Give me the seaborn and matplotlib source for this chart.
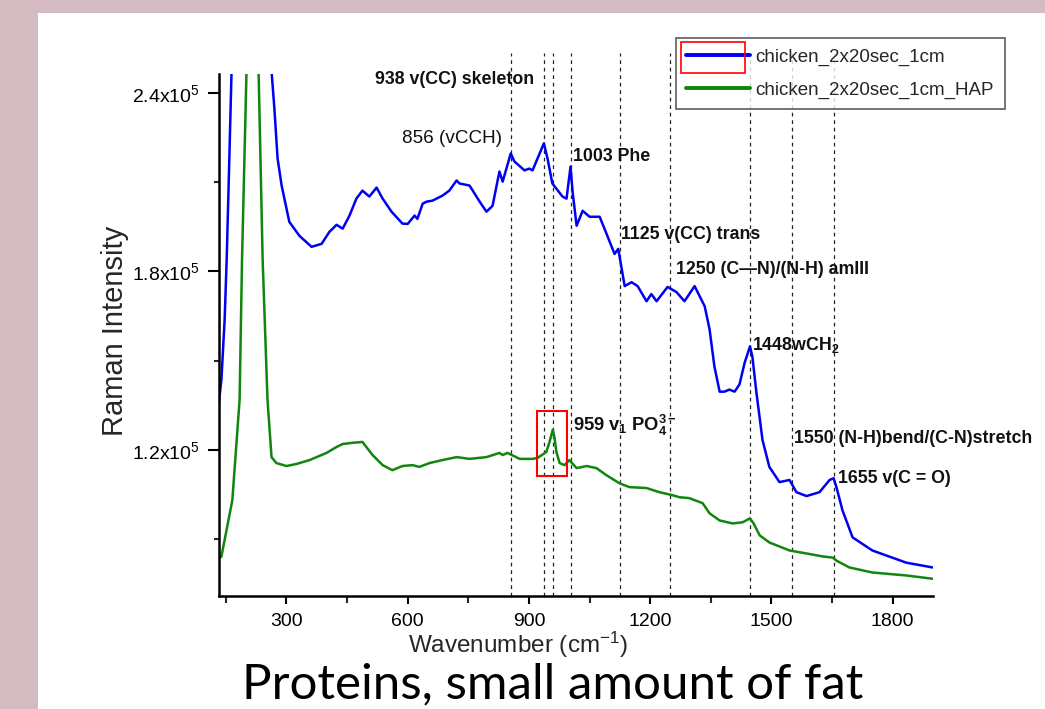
import numpy as np
import pandas as pd
import matplotlib
matplotlib.use("Agg")
import matplotlib.pyplot as plt
from matplotlib.patches import Rectangle
from matplotlib.lines import Line2D
import seaborn as sns

# ---------------- data ----------------
series_names = ["chicken_2x20sec_1cm", "chicken_2x20sec_1cm_HAP"]

blue_x = [132, 139, 147, 152, 158, 164, 190, 215, 240, 263, 270, 278, 288, 307, 332, 362, 387,
          406, 424, 439, 456, 473, 488, 505, 523, 538, 560, 587, 600, 617, 624, 637, 647, 661,
          686, 703, 721, 728, 753, 778, 795, 810, 827, 835, 855, 864, 889, 901, 909, 937, 946,
          958, 983, 993, 1003, 1008, 1018, 1033, 1050, 1075, 1087, 1104, 1112, 1121, 1137, 1154,
          1169, 1191, 1203, 1216, 1243, 1265, 1285, 1310, 1335, 1347, 1359, 1372, 1384, 1396,
          1409, 1421, 1434, 1447, 1453, 1463, 1478, 1495, 1520, 1545, 1562, 1587, 1619, 1644,
          1654, 1661, 1676, 1701, 1750, 1834, 1899]
blue_y = [135200, 143700, 163900, 184000, 215000, 247000, 300000, 330000, 300000, 247400, 234900,
          218000, 208900, 196700, 192000, 188300, 189300, 193300, 195700, 194400, 198800, 204500,
          207200, 205200, 208200, 204500, 200100, 196100, 196000, 198800, 197700, 202800, 203500,
          203800, 205500, 207200, 210600, 209600, 208900, 203500, 200100, 202100, 213600, 210200,
          219700, 217000, 214000, 214600, 214000, 223100, 218000, 209600, 205200, 204500, 215300,
          206900, 195400, 200400, 198400, 198400, 194400, 188600, 185900, 187600, 175100, 176400,
          175100, 170000, 172400, 170000, 174800, 173100, 170000, 175100, 168300, 160600, 148100,
          139600, 139600, 140300, 139600, 142000, 149400, 154800, 151400, 139300, 123400, 114300,
          109200, 109900, 105800, 104500, 105800, 109900, 110500, 107500, 99700, 90600, 86200,
          82100, 80500]

green_x = [133, 139, 166, 184, 190, 201, 215, 231, 241, 253, 263, 275, 300, 325, 357, 399, 424,
           439, 463, 488, 513, 538, 562, 587, 612, 629, 654, 686, 721, 753, 795, 827, 835, 847,
           877, 909, 921, 943, 951, 959, 963, 968, 976, 988, 1000, 1018, 1043, 1067, 1092, 1124,
           1149, 1191, 1223, 1255, 1273, 1297, 1330, 1347, 1372, 1404, 1429, 1447, 1456, 1471,
           1495, 1545, 1587, 1627, 1652, 1661, 1693, 1750, 1834, 1899]
green_y = [83500, 84200, 103100, 136900, 184000, 247000, 400000, 247000, 184000, 136900, 117600,
           115600, 114600, 115300, 116600, 119000, 121000, 122000, 122400, 122700, 118300, 114900,
           113200, 114600, 114900, 114300, 115600, 116600, 117600, 117000, 117600, 119000, 118300,
           119000, 117000, 117000, 117300, 119300, 122700, 126800, 124400, 119300, 115600, 114900,
           116600, 113900, 114600, 113900, 111500, 108800, 107500, 107200, 105800, 104800, 104100,
           103800, 102100, 98700, 96300, 95300, 95700, 97000, 95300, 91300, 88900, 86200, 85200,
           84200, 83800, 82800, 80500, 78800, 77800, 76700]

x_ticks = [300, 600, 900, 1200, 1500, 1800]
y_ticks = [120000, 180000, 240000]
y_tick_labels = ["1.2x10$^5$", "1.8x10$^5$", "2.4x10$^5$"]

peak_lines = [856, 938, 959, 1003, 1125, 1250, 1448, 1550, 1655]
annotations = [
    (518, 244400, "938 v(CC) skeleton", "bold", 12.8),
    (585, 224800, "856 (vCCH)", "normal", 13.6),
    (1010, 218700, "1003 Phe", "bold", 12.8),
    (1129, 192300, "1125 v(CC) trans", "bold", 12.8),
    (1263, 180800, "1250 (C\u2014N)/(N-H) amIII", "bold", 12.8),
    (1453, 155200, "1448wCH$_2$", "bold", 12.8),
    (1010, 128400, "959 v$_1$ PO$_4^{3-}$", "bold", 13.2),
    (1557, 123700, "1550 (N-H)bend/(C-N)stretch", "bold", 12.8),
    (1664, 110500, "1655 v(C = O)", "bold", 12.8),
]
box_x = [921, 995]
box_y = [111200, 133100]

title_text = "Proteins, small amount of fat"

# ---------------- plot ----------------
sns.set_style("ticks")
plt.rcParams["font.family"] = ["Liberation Sans", "DejaVu Sans"]
plt.rcParams["mathtext.default"] = "regular"

W, H = 1045, 709
fig = plt.figure(figsize=(W / 100, H / 100), dpi=100)
fig.patch.set_facecolor("#D4BBC2")
fig.patches.append(Rectangle((38 / W, 0), 1, 1 - 13 / H, transform=fig.transFigure,
                             facecolor="white", edgecolor="none", zorder=-10))

ax = fig.add_axes([219 / W, 1 - 596 / H, (933 - 219) / W, (596 - 74) / H])
ax.set_facecolor("white")

df = pd.concat([
    pd.DataFrame({"Wavenumber": blue_x, "Intensity": blue_y, "Series": series_names[0]}),
    pd.DataFrame({"Wavenumber": green_x, "Intensity": green_y, "Series": series_names[1]}),
])
colors = {series_names[0]: "#0000F5", series_names[1]: "#10860F"}
sns.lineplot(data=df, x="Wavenumber", y="Intensity", hue="Series", palette=colors,
             linewidth=1.8, ax=ax, legend=False, estimator=None, sort=False)

ax.set_xlim(133, 1900)
ax.set_ylim(70900, 246400)

for x in peak_lines:
    ax.axvline(x, ymin=0, ymax=1.041, color="#222222", lw=0.9,
               linestyle=(0, (3, 3)), clip_on=False, zorder=1)

ax.add_patch(Rectangle((box_x[0], box_y[0]), box_x[1] - box_x[0], box_y[1] - box_y[0],
                       fill=False, edgecolor="#FF0000", lw=1.5, zorder=4))

for x, y, t, w, fs in annotations:
    ax.text(x, y, t, ha="left", va="center", fontsize=fs, fontweight=w, color="#111111")

# axes styling
for s in ["top", "right"]:
    ax.spines[s].set_visible(False)
for s in ["left", "bottom"]:
    ax.spines[s].set_linewidth(1.8)
    ax.spines[s].set_color("black")

ax.set_xticks(x_ticks)
ax.set_xticks(np.arange(150, 1900, 150), minor=True)
ax.set_yticks(y_ticks)
ax.set_yticklabels(y_tick_labels)
ax.set_yticks([90000, 150000, 210000], minor=True)
ax.tick_params(axis="x", which="major", direction="out", length=6, width=1.5, pad=6.5,
               labelsize=14, colors="black")
ax.tick_params(axis="x", which="minor", direction="out", length=5, width=1.5)
ax.tick_params(axis="y", which="major", direction="out", length=8, width=1.5, pad=6,
               labelsize=14, colors="black")
ax.tick_params(axis="y", which="minor", direction="out", length=3.5, width=1.5)

ax.set_xlabel("Wavenumber (cm$^{-1}$)", fontsize=17.5, va="center")
ax.xaxis.set_label_coords((518 - 219) / 714, (596 - 645) / 522)
ax.set_ylabel("Raman Intensity", fontsize=21, va="center")
ax.yaxis.set_label_coords((115 - 219) / 714, (596 - 331) / 522)

handles = [Line2D([], [], color=colors[n], lw=2.8) for n in series_names]
leg = ax.legend(handles, series_names, loc="upper left",
                bbox_to_anchor=(676 / W, 1 - 38 / H), bbox_transform=fig.transFigure,
                borderaxespad=0, frameon=True, fancybox=False, fontsize=13.5,
                handlelength=3.4, handletextpad=0.3, labelspacing=0.85, borderpad=0.55)
leg.get_frame().set_edgecolor("#333333")
leg.get_frame().set_linewidth(1.2)
leg.set_zorder(6)

ax.add_patch(Rectangle((681 / W, 1 - 73 / H), 64 / W, 31 / H, transform=fig.transFigure,
                       fill=False, edgecolor="#FF0000", lw=1.2, clip_on=False, zorder=10))

fig.text(553 / W, 1 - 698 / H, title_text, ha="center", va="baseline",
         fontsize=35.5, family=["Lato", "DejaVu Sans"], color="black")

fig.savefig("out.png", dpi=100, facecolor=fig.get_facecolor())
